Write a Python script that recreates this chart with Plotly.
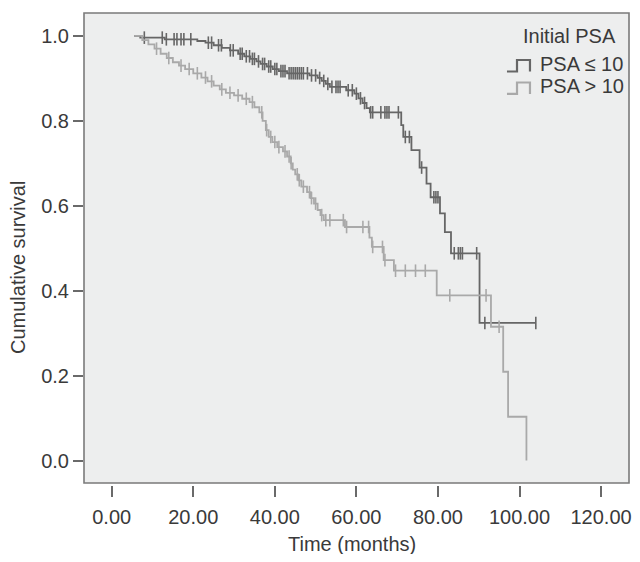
import numpy as np
import plotly.graph_objects as go

# PSA <= 10 (dark) step curve: event times and survival after event
low_t = [5.5, 7, 13, 21, 23, 25, 27, 29, 31, 32.5, 34, 35.5, 36.5, 38, 39.5, 41, 43,
         48.5, 50.5, 51.5, 52.5, 53.5, 57.5, 59.5, 60.5, 61.5, 62.5, 63.3, 71.0, 71.5,
         73.5, 75.5, 77.2, 78.2, 80.5, 81.7, 83.2, 90.2, 104]
low_s = [1.0, 0.996, 0.992, 0.988, 0.984, 0.978, 0.972, 0.966, 0.958, 0.952, 0.946, 0.940,
         0.934, 0.928, 0.922, 0.917, 0.912, 0.907, 0.901, 0.894, 0.887, 0.880, 0.872, 0.864,
         0.853, 0.842, 0.830, 0.820, 0.790, 0.762, 0.731, 0.690, 0.652, 0.620, 0.582, 0.538,
         0.488, 0.324, 0.324]
low_cens = [8, 12.4, 13.4, 15.3, 16, 17, 17.7, 19.4, 23.7, 24.5, 26.2, 26.9, 29.1, 29.8,
            31.5, 32, 33, 33.8, 34.5, 35, 36, 37, 37.5, 38.5, 39, 40, 40.5, 41.5, 42, 42.5,
            43.5, 44, 44.5, 45, 45.5, 46, 46.5, 47, 48, 49, 50, 51, 52, 53, 54, 55, 55.5, 56,
            58, 59, 60, 61, 62, 63.5, 64, 66, 67, 67.5, 68, 70.3, 72, 73, 76, 79, 79.5, 80,
            84, 85, 85.5, 86, 89.5, 91.5, 104]

# PSA > 10 (light) step curve
high_t = [5.5, 7.5, 9, 10.5, 12, 13.5, 15, 16.5, 18, 20, 22, 23.5, 25, 26.5, 28, 30, 32,
          33.8, 35, 36.2, 37, 37.8, 38.5, 39.4, 40.6, 42, 43, 43.9, 44.4, 45, 45.8, 46.5,
          47.9, 48.8, 49.6, 50.5, 51.2, 52, 57.2, 63.2, 63.8, 66.7, 69.2, 79.7, 93.0, 96.0,
          97.2, 101.7]
high_s = [1.0, 0.99, 0.98, 0.97, 0.958, 0.948, 0.938, 0.93, 0.922, 0.912, 0.902, 0.893,
          0.883, 0.874, 0.866, 0.86, 0.852, 0.844, 0.832, 0.82, 0.80, 0.778, 0.762, 0.75,
          0.738, 0.728, 0.716, 0.70, 0.685, 0.674, 0.66, 0.645, 0.632, 0.618, 0.605, 0.59,
          0.578, 0.566, 0.55, 0.525, 0.503, 0.472, 0.447, 0.389, 0.315, 0.209, 0.103, 0.0]
high_cens = [11, 14, 17, 19, 21, 23, 24.5, 27, 29, 31, 33, 34.5, 36.8, 38, 39, 40, 41, 42.5,
             43.5, 44, 45.5, 46, 47, 48.5, 49, 50, 51.5, 52.5, 53.5, 56.8, 57.6, 61.6, 63,
             64, 66.4, 67, 69.6, 72, 74.5, 76.9, 82.9, 91.8, 95]

series_names = ["PSA ≤ 10", "PSA > 10"]
series_colors = ["#666666", "#a9a9a9"]
legend_title = "Initial PSA"

x_ticks = [0, 20, 40, 60, 80, 100, 120]
y_ticks = [0.0, 0.2, 0.4, 0.6, 0.8, 1.0]

FONT = "Liberation Sans, Arial, sans-serif"
TXT = "#3a3a3a"
FS = 20

series = [
    (series_names[0], low_t, low_s, low_cens, series_colors[0]),
    (series_names[1], high_t, high_s, high_cens, series_colors[1]),
]

fig = go.Figure()
for name, t, s, cens, col in series:
    t = np.array(t)
    s = np.array(s)
    fig.add_trace(go.Scatter(x=t, y=s, mode="lines", line=dict(color=col, width=1.8, shape="hv"),
                             name=name, legendgroup=name, showlegend=False))
    c = np.array(cens)
    idx = np.searchsorted(t, c, side="right") - 1
    cs = s[np.clip(idx, 0, len(s) - 1)]
    fig.add_trace(go.Scatter(x=c, y=cs, mode="markers",
                             marker=dict(symbol="line-ns", size=9, line=dict(color=col, width=1.6)),
                             showlegend=False, legendgroup=name, hoverinfo="skip"))

# plot frame
fig.add_shape(type="rect", xref="x domain", yref="y domain", x0=0, x1=1, y0=0, y1=1,
              fillcolor="#edeeee", line=dict(color="#7a7a7a", width=1.6), layer="below")

# axis titles
fig.add_annotation(text="Time (months)", xref="paper", yref="paper", x=0.4917, y=-0.125,
                   xanchor="center", yanchor="middle", showarrow=False,
                   font=dict(size=FS, color=TXT))
fig.add_annotation(text="Cumulative survival", xref="paper", yref="paper", x=-0.1211, y=0.4597,
                   xanchor="center", yanchor="middle", showarrow=False, textangle=-90,
                   font=dict(size=FS, color=TXT))

# legend (SPSS-style step icons)
fig.add_annotation(text=legend_title, xref="paper", yref="paper", x=0.8018, y=0.9513,
                   xanchor="left", yanchor="middle", showarrow=False,
                   font=dict(size=FS, color=TXT))
leg_y = [0.8919, 0.8443]
for i, (name, col) in enumerate(zip(series_names, series_colors)):
    yc = leg_y[i]
    fig.add_annotation(text=name, xref="paper", yref="paper", x=0.8330, y=yc,
                       xanchor="left", yanchor="middle", showarrow=False,
                       font=dict(size=FS, color=TXT))
    yb = yc - 0.0158
    yt = yc + 0.0085
    fig.add_shape(type="path", xref="paper", yref="paper",
                  path=f"M 0.7761 {yb} L 0.7945 {yb} L 0.7945 {yt} L 0.8183 {yt} L 0.8183 {yb}",
                  line=dict(color=col, width=2.2))

fig.update_layout(
    width=624, height=546,
    margin=dict(l=76, r=3, t=5, b=69),
    paper_bgcolor="white", plot_bgcolor="white",
    font=dict(family=FONT, size=FS, color=TXT),
    showlegend=False,
    xaxis=dict(range=[-6.79, 126.85], tickvals=x_ticks, ticktext=[f"{v:.2f}" for v in x_ticks],
               showgrid=False, zeroline=False, showline=False, anchor="free", position=0,
               ticks="outside", ticklen=11, tickwidth=1.6, tickcolor="#6a6a6a",
               ticklabelstandoff=3, ticklabeloverflow="allow",
               automargin=False, tickfont=dict(size=FS, color=TXT)),
    yaxis=dict(range=[-0.053, 1.054], domain=[2 / 472, 1], tickvals=y_ticks,
               ticktext=[f"{v:.1f}" for v in y_ticks],
               showgrid=False, zeroline=False, showline=False,
               ticks="outside", ticklen=10, tickwidth=1.6, tickcolor="#6a6a6a",
               automargin=False, tickfont=dict(size=FS, color=TXT)),
)

fig.write_html("out.html")
